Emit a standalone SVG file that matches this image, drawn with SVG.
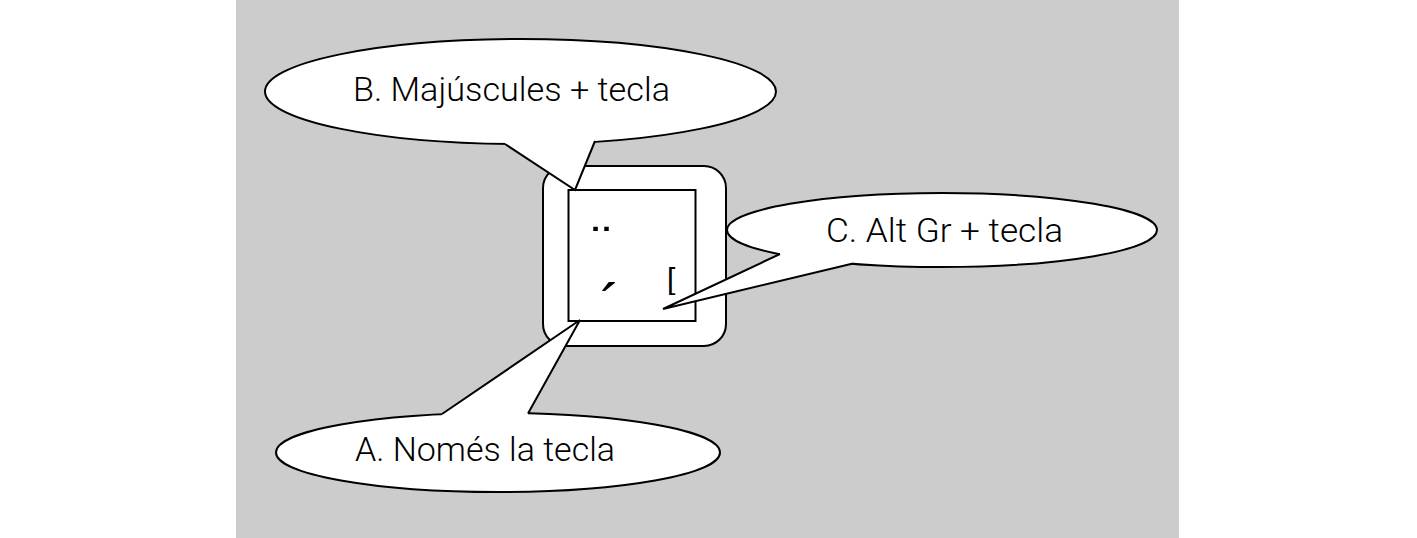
<svg xmlns="http://www.w3.org/2000/svg" width="1417" height="538" viewBox="0 0 1417 538">
  <style>
    .shape { fill: #ffffff; stroke: #000000; stroke-width: 2; }
    .cover { fill: #ffffff; stroke: none; }
    .line { fill: none; stroke: #000000; stroke-width: 2; stroke-linejoin: miter; }
    .label { font-family: Roboto, "Liberation Sans", Arial, sans-serif; font-weight: 300; font-size: 33.5px; fill: #000000; text-anchor: middle; }
    .key { font-family: "Liberation Sans", Arial, sans-serif; fill: #000000; }
  </style>
  <rect x="0" y="0" width="1417" height="538" fill="#ffffff"/>
  <rect x="236" y="0" width="943" height="538" fill="#cccccc"/>

  <g id="key">
    <rect class="shape" x="543" y="166" width="183" height="180" rx="22" ry="22"/>
    <rect class="shape" x="568.5" y="190" width="127" height="131"/>
    <text class="key" x="592" y="259.5" font-size="48" textLength="19" lengthAdjust="spacingAndGlyphs">¨</text>
    <text class="key" x="600" y="326.5" font-size="62">´</text>
    <text class="key" x="667" y="289" font-size="30">[</text>
  </g>

  <g id="callout-b">
    <ellipse class="shape" cx="520.5" cy="91.5" rx="255.5" ry="52.5"/>
    <text class="label" x="511.5" y="100.5" textLength="317" lengthAdjust="spacingAndGlyphs">B. Majúscules + tecla</text>
  </g>

  <g id="callout-c">
    <ellipse class="shape" cx="942" cy="230" rx="215" ry="37"/>
    <text class="label" x="944.5" y="241.5" textLength="237" lengthAdjust="spacingAndGlyphs">C. Alt Gr + tecla</text>
  </g>

  <g id="callout-a">
    <ellipse class="shape" cx="498" cy="452.5" rx="222" ry="39.5"/>
    <text class="label" x="485" y="461" textLength="260" lengthAdjust="spacingAndGlyphs">A. Només la tecla</text>
  </g>

  <g id="connectors">
    <polygon class="cover" points="505,144 575,190 595,141 595,130 505,130"/>
    <polyline class="line" points="505,144 575,190 595,141"/>
    <polygon class="cover" points="780,254 663,309 853,263.5 853,250 780,245"/>
    <polyline class="line" points="780,254 663,309 853,263.5"/>
    <polygon class="cover" points="442,414 580,320 528,413.5 528,425 442,425"/>
    <polyline class="line" points="442,414 580,320 528,413.5"/>
  </g>
</svg>
